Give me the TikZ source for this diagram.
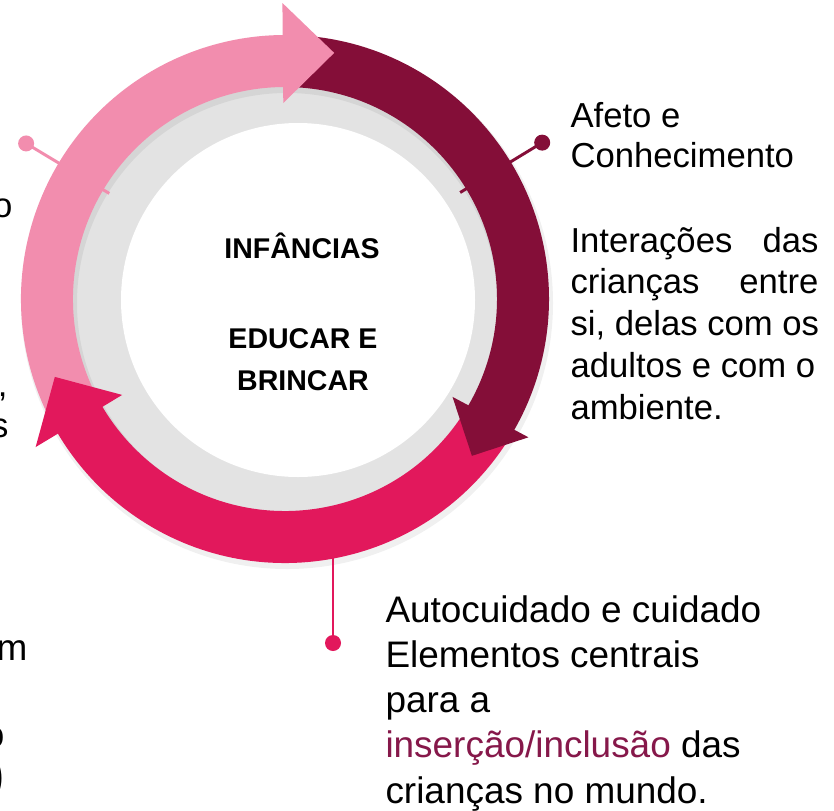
\documentclass[tikz,border=0pt]{standalone}
\usepackage{fontspec}
\setmainfont{Liberation Sans}

\definecolor{rosa}{RGB}{242,141,174}
\definecolor{vinho}{RGB}{132,14,56}
\definecolor{pinkforte}{RGB}{226,24,92}
\definecolor{cinza}{RGB}{227,227,227}
\definecolor{roxo}{RGB}{134,24,74}

\tikzset{every picture/.style={line width=0.75pt}}
\tikzset{
  faixa/.style={line width=39pt},
  haste/.style={line width=2.2pt},
  bolinha/.style={circle,fill,inner sep=0pt,minimum size=12pt},
  rotulo/.style={anchor=base west,inner sep=0pt,align=left,font=\fontsize{26}{31.3}\selectfont},
  rotulob/.style={anchor=base west,inner sep=0pt,align=left,font=\fontsize{27.7}{33.8}\selectfont},
  titulo/.style={anchor=base,inner sep=0pt,align=center,font=\fontsize{21.4}{31.5}\selectfont\bfseries},
  corte/.style={anchor=base east,inner sep=0pt}
}

\begin{document}
\begin{tikzpicture}[x=0.75pt,y=0.75pt,yscale=-1,xscale=1]
	\useasboundingbox (0,0) rectangle (834,810);
	\clip (0,0) rectangle (834,810);
	\fill[white] (0,0) rectangle (834,810);
	
	\coordinate (C) at (285,299);
	\begin{scope}[shift={(C)}]
	%Shape: Disk (fundo cinza)
	\fill[cinza] (0,0) circle (214);
	%Shape: Disk (miolo branco)
	\fill[white] (13,1) circle (177);
	%Shape: sombra do anel
	\draw[line width=42pt,black,opacity=.06] (2,4) circle (238);
	
	%Callouts: hastes e bolinhas
	\node[bolinha,rosa] (pontoA) at (211:302) {};
	\coordinate (pinoA) at (211:205);
	\draw[haste,rosa] (pontoA.center) -- (pinoA);
	\node[bolinha,vinho] (pontoB) at (328.7:301) {};
	\coordinate (pinoB) at (328.7:205);
	\draw[haste,vinho] (pontoB.center) -- (pinoB);
	\node[bolinha,pinkforte] (pontoC) at (48,344) {};
	\coordinate (pinoC) at (48,241);
	\draw[haste,pinkforte] (pontoC.center) -- (pinoC);
	
	%Shape: Arcs (faixas)
	\draw[faixa,rosa] (154:238) arc[start angle=154,end angle=271,radius=238];
	\draw[faixa,vinho] (-88:238) arc[start angle=-88,end angle=31,radius=238];
	\draw[faixa,pinkforte] (33:238) arc[start angle=33,end angle=150,radius=238];
	
	%Shape: Triangles (pontas)
	\fill[rosa] (269.5:196) -- (269.5:296) -- (281.3:251) -- cycle;
	\fill[vinho] (30.3:194) -- (29.6:280) -- (40:244) -- cycle;
	\fill[pinkforte] (149.5:189) -- (149.3:290) -- (161.3:243) -- cycle;
	\end{scope}
	
	% Text Node
	\node[titulo] (infancias) at (302,258) {INFÂNCIAS};
	% Text Node
	\node[titulo] (educar) at (303,390) {EDUCAR E\\BRINCAR};
	% Text Node
	\node[rotulo] (afeto) at (570,167) {Afeto e\\[-1.3pt]Conhecimento};
	% Text Node
	\node[rotulo] (interacoes) at (570,419) {\makebox[186pt][s]{Interações das}\\\makebox[186pt][s]{crianças entre}\\si, delas com os\\adultos e com o\\ambiente.};
	% Text Node
	\node[rotulob] (autocuidado) at (385,803) {Autocuidado e cuidado\\Elementos centrais\\para a\\{\color{roxo}inserção/inclusão} das\\crianças no mundo.};
	
	% Text Node (coluna cortada na margem)
	\node[corte,font=\fontsize{26}{31.3}\selectfont] (restoA) at (13,217) {o};
	\node[corte,font=\fontsize{26}{31.3}\selectfont] (restoB) at (8,396) {,};
	\node[corte,font=\fontsize{26}{31.3}\selectfont] (restoC) at (9,437) {s};
	\node[corte,font=\fontsize{27.7}{33.8}\selectfont] (restoD) at (28,660) {m};
	\node[corte,font=\fontsize{27.7}{33.8}\selectfont] (restoE) at (5,747) {o};
	\node[corte,font=\fontsize{40}{44}\selectfont] (restoF) at (6,792) {)};
\end{tikzpicture}
\end{document}
